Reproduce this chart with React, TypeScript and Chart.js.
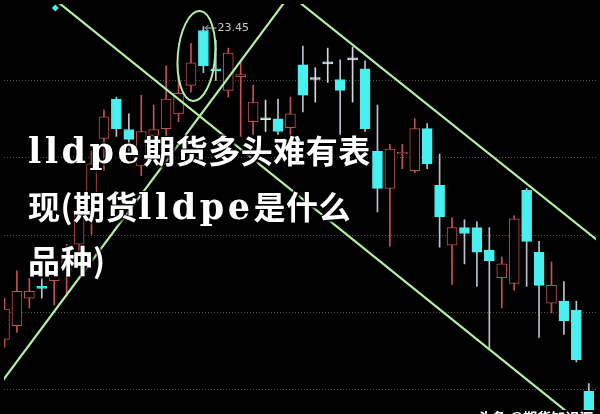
import React, { useEffect, useRef } from 'react';
import { Chart, registerables } from 'chart.js';

Chart.register(...registerables);

// ---- data ----
const dayIndex = [0, 1, 2, 3, 4, 5, 6, 7, 8, 9, 10, 11, 12, 13, 14, 15, 16, 17, 18, 19, 20, 21, 22, 23, 24, 25, 26, 27, 28, 29, 30, 31, 32, 33, 34, 35, 36, 37, 38, 39, 40, 41, 42, 43, 44, 45, 46, 47];
const opens = [20.26, 20.40, 20.68, 20.80, 20.86, 20.96, 21.23, 21.68, 22.31, 22.71, 22.40, 22.03, 22.34, 22.41, 22.56, 22.85, 23.41, 23.02, 22.80, 22.94, 22.48, 22.52, 22.51, 22.42, 23.06, 22.93, 23.09, 22.91, 23.13, 23.02, 22.18, 21.80, 22.15, 21.98, 22.41, 21.83, 21.22, 21.40, 21.40, 21.17, 20.89, 20.83, 21.78, 21.15, 20.63, 20.65, 20.56, 19.73];
const closes = [20.57, 20.75, 20.75, 20.78, 20.93, 21.13, 21.53, 22.05, 22.53, 22.41, 22.30, 22.38, 22.40, 22.71, 22.77, 23.08, 23.05, 23.00, 23.18, 22.96, 22.68, 22.50, 22.38, 22.56, 22.75, 22.91, 23.07, 22.80, 23.11, 22.41, 21.80, 22.20, 22.17, 22.41, 22.05, 21.51, 21.40, 21.34, 21.15, 21.06, 21.03, 21.49, 21.26, 20.81, 20.81, 20.45, 20.05, 19.48];
const highs = [20.68, 20.96, 20.88, 20.88, 21.00, 21.23, 21.68, 22.18, 22.60, 22.73, 22.56, 22.75, 22.65, 23.05, 22.95, 23.28, 23.45, 23.31, 23.23, 23.11, 22.85, 22.70, 22.71, 22.73, 23.25, 23.03, 23.23, 23.11, 23.24, 23.10, 22.65, 22.25, 22.25, 22.51, 22.46, 22.15, 21.50, 21.48, 21.46, 21.40, 21.10, 21.52, 21.80, 21.26, 21.05, 20.85, 20.65, 19.81];
const lows = [20.18, 20.33, 20.58, 20.68, 20.61, 20.70, 21.00, 21.33, 21.98, 22.33, 22.18, 21.93, 22.23, 22.28, 22.48, 22.78, 22.98, 22.90, 22.73, 22.33, 22.35, 22.38, 22.35, 22.31, 22.58, 22.68, 22.88, 22.35, 22.68, 22.38, 21.56, 21.21, 22.00, 21.96, 22.00, 21.20, 20.82, 21.03, 20.80, 20.16, 20.58, 20.76, 20.80, 20.28, 20.53, 20.31, 20.03, 19.40];
const kinds = ['up', 'up', 'up', 'down', 'up', 'up', 'up', 'up', 'up', 'down', 'down', 'up', 'up', 'up', 'up', 'up', 'down', 'down', 'up', 'up', 'up', 'doji', 'down', 'up', 'down', 'doji', 'doji', 'down', 'doji', 'down', 'down', 'up', 'up', 'up', 'down', 'down', 'up', 'down', 'down', 'down', 'up', 'up', 'down', 'down', 'up', 'down', 'down', 'down'];

const gridPrices = [22.90, 22.11, 21.32, 20.53, 19.75];

// trend lines, in (day index, price)
const channelUpper = [{ x: 23.5, y: 23.72 }, { x: 48, y: 21.24 }];
const channelLower = [{ x: 4.0, y: 23.73 }, { x: 48, y: 19.24 }];
const supportLine = [{ x: -0.5, y: 19.78 }, { x: 23, y: 23.78 }];
const markerPoint = [{ x: 4.09, y: 23.64 }];

// circled top (day index / price units)
const circleCenterIndex = 15.44;
const circleCenterPrice = 23.15;
const circleHalfWidth = 1.5;
const circleHalfHeight = 0.46;
const circleTilt = 0.08;
const peakIndex = 16;

const titleLines = [
  [['l', 'lldpe'], ['c', '期货多头难有表']],
  [['c', '现(期货'], ['l', 'lldpe'], ['c', '是什么']],
  [['c', '品种)']],
];
const watermark = '头条 @期货知识汇';

const RED = '#c45050';
const CYAN = '#48f0f0';
const GREEN = '#b4f0a4';

const palette: Record<string, { fill: string; border: string; wick: string }> = {
  up: { fill: '#000000', border: RED, wick: RED },
  down: { fill: CYAN, border: CYAN, wick: '#b8c2d2' },
  doji: { fill: '#e0e8f0', border: '#e0e8f0', wick: '#d0d8e0' },
};

const annotPlugin = {
  id: 'annot',
  beforeDraw(chart: any) {
    const ctx = chart.ctx;
    ctx.save();
    ctx.fillStyle = '#000';
    ctx.fillRect(0, 0, chart.width, chart.height);
    ctx.restore();
  },
  afterDatasetsDraw(chart: any) {
    const { ctx } = chart;
    const xs = chart.scales.x;
    const ys = chart.scales.y;
    const cx = xs.getPixelForValue(circleCenterIndex);
    const cy = ys.getPixelForValue(circleCenterPrice);
    const rx = Math.abs(xs.getPixelForValue(circleCenterIndex + circleHalfWidth) - cx);
    const ry = Math.abs(ys.getPixelForValue(circleCenterPrice + circleHalfHeight) - cy);
    ctx.save();
    ctx.strokeStyle = GREEN;
    ctx.lineWidth = 2;
    ctx.beginPath();
    ctx.ellipse(cx, cy, rx, ry, circleTilt, 0, Math.PI * 2);
    ctx.stroke();

    const hi = highs[peakIndex];
    const px = xs.getPixelForValue(peakIndex);
    const py = ys.getPixelForValue(hi);
    ctx.strokeStyle = '#c8c8c8';
    ctx.lineWidth = 1;
    ctx.beginPath();
    ctx.moveTo(px + 2, py + 1.5);
    ctx.lineTo(px + 13, py + 1.5);
    ctx.moveTo(px + 2, py + 1.5);
    ctx.lineTo(px + 5, py - 1.5);
    ctx.moveTo(px + 2, py + 1.5);
    ctx.lineTo(px + 5, py + 4.5);
    ctx.stroke();
    ctx.fillStyle = '#c8c8c8';
    ctx.font = '11px "DejaVu Sans", sans-serif';
    ctx.textBaseline = 'middle';
    ctx.fillText(hi.toFixed(2), px + 14, py + 1.5);
    ctx.restore();
  },
};

export default function App() {
  const ref = useRef<HTMLCanvasElement | null>(null);

  useEffect(() => {
    document.body.style.margin = '0';
    if (!ref.current) return;
    const bodyData = dayIndex.map((i) => ({ x: i, y: [Math.min(opens[i], closes[i]), Math.max(opens[i], closes[i])] }));
    const wickData = dayIndex.map((i) => ({ x: i, y: [lows[i], highs[i]] }));
    const lineDs = (data: any) => ({
      type: 'line',
      data,
      borderColor: GREEN,
      borderWidth: 2.2,
      pointRadius: 0,
      fill: false,
      order: 1,
    });
    const chart = new Chart(ref.current, {
      type: 'bar',
      data: {
        datasets: [
          {
            type: 'bar',
            data: wickData,
            backgroundColor: dayIndex.map((i) => palette[kinds[i]].wick),
            borderWidth: 0,
            barThickness: 1,
            grouped: false,
            order: 3,
          },
          {
            type: 'bar',
            data: bodyData,
            backgroundColor: dayIndex.map((i) => palette[kinds[i]].fill),
            borderColor: dayIndex.map((i) => palette[kinds[i]].border),
            borderWidth: 1,
            borderSkipped: false,
            barThickness: 10,
            grouped: false,
            order: 2,
          },
          lineDs(channelUpper),
          lineDs(channelLower),
          lineDs(supportLine),
          {
            type: 'line',
            data: markerPoint,
            showLine: false,
            pointStyle: 'rectRot',
            pointRadius: 3.5,
            pointBackgroundColor: CYAN,
            pointBorderWidth: 0,
            order: 0,
          },
        ] as any,
      },
      options: {
        responsive: false,
        animation: false,
        devicePixelRatio: 1,
        layout: { padding: 0 },
        plugins: { legend: { display: false }, tooltip: { enabled: false } },
        scales: {
          x: {
            type: 'linear',
            min: -0.04,
            max: 47.58,
            offset: false,
            display: false,
          },
          y: {
            type: 'linear',
            min: 19.54,
            max: 23.68,
            display: true,
            ticks: { display: false },
            grid: { color: 'rgba(115,80,80,0.9)', drawTicks: false, lineWidth: 1 },
            border: { display: false, dash: [1, 2] },
            afterBuildTicks: (s: any) => {
              s.ticks = gridPrices.map((v) => ({ value: v }));
            },
          },
        },
      } as any,
      plugins: [annotPlugin],
    });
    return () => chart.destroy();
  }, []);

  const shadow = '0 0 2px #000, 1px 1px 1px #000, 2px 2px 3px #000, -1px -1px 1px #000';
  const lineTops = [122, 178, 232];

  return (
    <div style={{ position: 'relative', width: 600, height: 414, overflow: 'hidden', background: '#000' }}>
      <canvas ref={ref} width={600} height={414} style={{ display: 'block', width: 600, height: 414 }} />
      {titleLines.map((parts, li) => (
        <div
          key={li}
          style={{
            position: 'absolute',
            left: 28,
            top: lineTops[li],
            height: 55,
            lineHeight: '55px',
            whiteSpace: 'nowrap',
            color: '#fff',
            textShadow: shadow,
            fontFamily: '"Noto Sans CJK SC", sans-serif',
            fontSize: 32,
            fontWeight: 700,
          }}
        >
          {parts.map(([k, t], pi) => (
            <span
              key={pi}
              style={
                k === 'l'
                  ? { fontFamily: '"DejaVu Serif", serif', fontSize: 35, fontWeight: 700, letterSpacing: '3.5px' }
                  : { fontFamily: '"Noto Sans CJK SC", sans-serif', fontSize: 32, fontWeight: 700, letterSpacing: '0.5px' }
              }
            >
              {t}
            </span>
          ))}
        </div>
      ))}
      <div
        style={{
          position: 'absolute',
          left: 478,
          top: 407,
          color: '#fff',
          fontFamily: '"Noto Sans CJK SC", sans-serif',
          fontSize: 14,
          fontWeight: 700,
          whiteSpace: 'nowrap',
          textShadow: shadow,
        }}
      >
        {watermark}
      </div>
    </div>
  );
}
